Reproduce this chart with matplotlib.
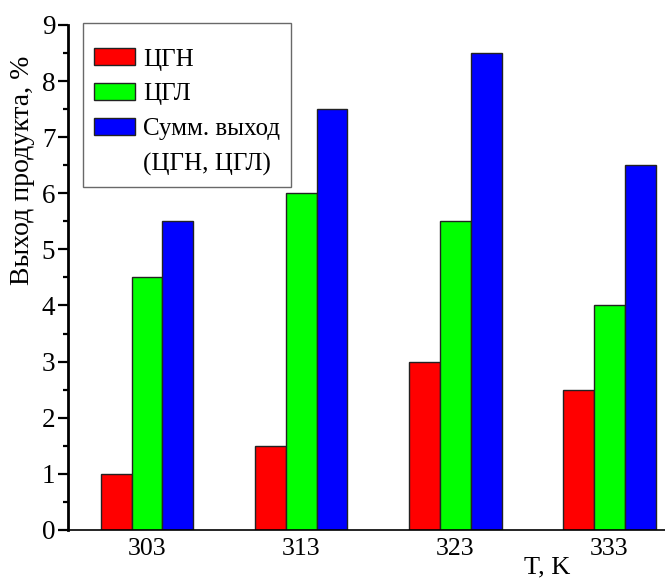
import numpy as np
import matplotlib.pyplot as plt
from matplotlib.patches import Rectangle
from matplotlib.ticker import MultipleLocator

temps = ['303', '313', '323', '333']
cgn = [1.0, 1.5, 3.0, 2.5]
cgl = [4.5, 6.0, 5.5, 4.0]
total = [5.5, 7.5, 8.5, 6.5]

plt.rcParams['font.family'] = ['Liberation Serif', 'DejaVu Serif']

fig = plt.figure(figsize=(6.65, 5.81), dpi=100)
ax = fig.add_axes([0.102, 0.088, 0.898, 0.869])

x = np.arange(len(temps))
w = 0.2
b1 = ax.bar(x - w, cgn, w, color='#ff0000', edgecolor='#222222', linewidth=1)
b2 = ax.bar(x, cgl, w, color='#00ff00', edgecolor='#222222', linewidth=1)
b3 = ax.bar(x + w, total, w, color='#0000ff', edgecolor='#222222', linewidth=1)

ax.set_xlim(-0.513, 3.36)
ax.set_ylim(0, 9)
ax.set_xticks(x)
ax.set_xticklabels(temps, fontsize=18.5)
ax.tick_params(axis='x', length=0, pad=6)
ax.yaxis.set_major_locator(MultipleLocator(1))
ax.yaxis.set_minor_locator(MultipleLocator(0.5))
ax.tick_params(axis='y', which='major', direction='out', length=7, width=1.6, labelsize=19.5, pad=2)
ax.tick_params(axis='y', which='minor', direction='out', length=3.5, width=1.6)

ax.spines['top'].set_visible(False)
ax.spines['right'].set_visible(False)
ax.spines['left'].set_linewidth(2)
ax.spines['bottom'].set_linewidth(1.2)

ax.set_ylabel('Выход продукта, %', fontsize=20)
ax.yaxis.set_label_coords(-0.055, 0.713)
ax.text(0.803, -0.075, 'T, K', transform=ax.transAxes, fontsize=19, ha='center', va='center')

# empty handle so the second line of the last entry sits under the text
blank = Rectangle((0, 0), 1, 1, fill=False, edgecolor='none', visible=False)
leg = ax.legend([b1, b2, b3, blank], ['ЦГН', 'ЦГЛ', 'Сумм. выход', '(ЦГН, ЦГЛ)'],
                loc='upper left', bbox_to_anchor=(0.025, 1.003), borderaxespad=0,
                fontsize=18, frameon=True, fancybox=False, edgecolor='#444444',
                handlelength=1.65, handleheight=0.68, handletextpad=0.3,
                labelspacing=0.5, borderpad=0.45, title=' ', title_fontsize=1)
leg.get_frame().set_linewidth(1)

fig.savefig('out.png', dpi=100)
